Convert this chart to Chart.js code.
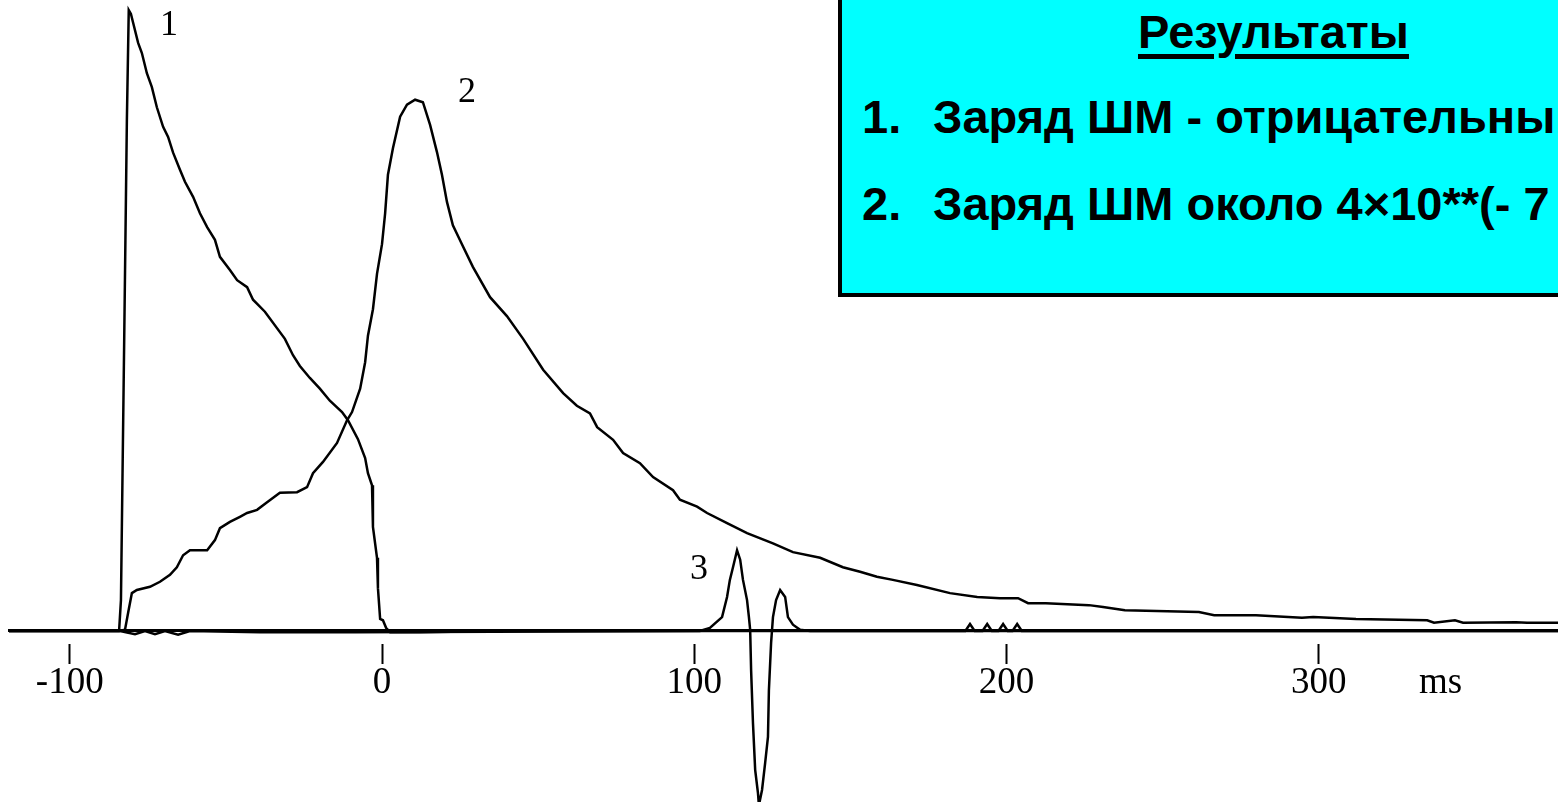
<!DOCTYPE html>
<html>
<head>
<meta charset="utf-8">
<script src="https://cdn.jsdelivr.net/npm/chart.js@4.4.0/dist/chart.umd.min.js"></script>
<style>
    html, body { margin: 0; padding: 0; background: #fff; overflow: hidden; }
    #wrap { position: relative; width: 1558px; height: 802px; overflow: hidden; }
    #chart { position: absolute; left: 0; top: 0; }
    #box {
        position: absolute; left: 838px; top: -10px; width: 800px; height: 307px;
        box-sizing: border-box; background: #00ffff;
        border-left: 4px solid #000; border-bottom: 4px solid #000;
    }
    .t {
        position: absolute; font-family: "Liberation Sans", Arial, sans-serif;
        font-weight: bold; font-size: 47px; line-height: 47px; white-space: nowrap; color: #000;
    }
    #title { text-decoration: underline; text-decoration-thickness: 5px; text-underline-offset: 6px; }
</style>
</head>
<body>
<div id="wrap">
    <canvas id="chart" width="1558" height="802"></canvas>
    <div id="box"></div>
    <div class="t" id="title" style="left:1138px; top:8px;">Результаты</div>
    <div class="t" style="left:862px; top:93px;">1.</div>
    <div class="t" style="left:933px; top:93px;">Заряд ШМ - отрицательный</div>
    <div class="t" style="left:862px; top:180px;">2.</div>
    <div class="t" style="left:933px; top:180px;">Заряд ШМ около 4×10**(- 7</div>
</div>
<script>
// time axis, ms
const X_MIN = -119.45;
const X_MAX = 376.6;
const Y_MIN = -27.1;
const Y_MAX = 100;

const tickValues = [-100, 0, 100, 200, 300];
const UNIT_AT = 339;        // where "ms" sits on the axis
const unitLabel = 'ms';

// curve 1
const curve1Time = [-119.5, -103.1, -84.2, -83.6, -82.6, -81.7, -81.1, -80.4, -79.7, -78.1, -76.9, -75.3, -73.7, -72.1,
    -70.1, -68.5, -66.9, -64.7, -63.1, -60.5, -58.3, -56.0, -53.5, -51.9, -48.7, -46.4, -43.2, -41.3, -37.5, -31.1,
    -28.5, -26.3, -23.1, -19.9, -16.7, -12.8, -10.9, -7.7, -5.4, -4.5, -3.2, -2.9, -1.6, -1.3, -0.6, 0.3, 1.3, 2.6,
    12.2, 37.8, 376.6];
const curve1Value = [0, 0, 0, 4.9, 44.5, 81.0, 98.4, 97.8, 96.4, 93.2, 91.6, 88.4, 86.2, 83.0,
    79.9, 78.3, 75.8, 73.1, 71.2, 68.8, 66.2, 64.0, 62.0, 59.3, 57.2, 55.6, 54.5, 52.5, 50.6, 46.3,
    43.7, 42.0, 40.1, 38.4, 36.5, 34.7, 33.4, 30.4, 27.4, 25.0, 23.1, 16.5, 11.6, 6.8, 1.9, 1.7, 0.5, -0.2,
    -0.2, 0, 0];

// curve 2
const curve2Time = [-119.5, -84.2, -82.3, -81.3, -80.1, -78.5, -74.3, -71.1, -67.9, -65.7, -63.7, -61.5, -56.0,
    -53.5, -51.9, -48.7, -45.5, -43.2, -40.0, -36.8, -32.7, -27.2, -24.0, -22.1, -18.9, -14.4, -11.2, -9.6, -7.0,
    -5.4, -4.5, -2.9, -1.6, 0, 1.0, 1.9, 3.5, 5.8, 8.0, 10.6, 13.1, 15.4, 17.6, 19.2, 20.8, 22.7, 25.6, 29.1, 34.6,
    40.0, 45.2, 51.6, 58.0, 62.4, 66.6, 68.9, 74.0, 77.2, 82.6, 86.8, 93.2, 95.4, 100.9, 104.1, 110.5, 116.9, 125.2,
    131.6, 140.3, 147.6, 153.1, 158.5, 163.6, 171.3, 181.9, 190.6, 197.9, 203.7, 206.9, 212.6, 226.4, 230.9, 237.9,
    261.6, 266.5, 279.9, 294.6, 298.2, 311.9, 334.7, 336.9, 343.6, 346.2, 363.2, 366.7, 376.6];
const curve2Value = [0, 0, 0.2, 2.9, 6.0, 6.5, 7.0, 7.8, 8.9, 10.1, 12.0, 12.8, 12.8,
    14.4, 16.3, 17.3, 18.1, 18.7, 19.2, 20.4, 21.9, 22.0, 22.8, 25.0, 26.8, 29.8, 33.4, 34.7, 38.4,
    42.6, 46.8, 51.0, 56.6, 61.3, 66.2, 72.3, 76.5, 81.5, 83.4, 84.2, 83.8, 80.2, 75.9, 72.3, 68.0, 64.3, 61.3, 57.7, 52.9,
    49.9, 46.3, 41.4, 37.7, 35.7, 34.5, 32.3, 30.3, 28.2, 26.6, 24.4, 22.3, 20.8, 19.7, 18.7, 17.1, 15.5, 13.9,
    12.5, 11.6, 10.1, 9.4, 8.6, 8.1, 7.3, 6.0, 5.4, 5.2, 5.2, 4.4, 4.4, 4.1, 3.8, 3.3,
    3.0, 2.5, 2.5, 2.1, 2.2, 1.9, 1.7, 1.3, 1.7, 1.3, 1.4, 1.3, 1.3];

// curve 3
const curve3Time = [-119.5, -83.9, -79.1, -75.9, -72.7, -69.5, -65.3, -61.5, -39.1, -8.6, 101.8, 105.0, 108.9,
    110.5, 111.4, 112.4, 113.7, 114.7, 115.6, 116.9, 117.5, 117.9, 118.2, 118.8, 119.5, 120.4, 120.7, 121.7, 122.7,
    123.6, 123.9, 124.6, 125.2, 126.2, 127.5, 129.1, 130.0, 131.6, 133.9, 137.1, 186.8, 188.3, 189.8, 192.3, 193.8,
    195.3, 197.4, 198.9, 200.4, 201.9, 203.4, 204.9, 376.6];
const curve3Value = [0, 0, -0.5, 0, -0.5, 0, -0.6, 0, -0.2, -0.2, 0, 0.5, 2.2,
    5.4, 8.1, 10.1, 12.8, 11.3, 8.1, 4.9, 2.2, 0.2, -6.2, -14.6, -22.0, -25.7, -27.6, -25.2, -20.9,
    -16.8, -9.4, -1.9, 2.2, 4.9, 6.5, 5.4, 2.2, 1.0, 0.2, 0, 0, 1.1, 0, 0, 1.1,
    0, 0, 1.1, 0, 0, 1.1, 0, 0];

// curve numbers written next to the traces
const curveNames = ['1', '2', '3'];
const curveNameTime = [-68.2, 27.2, 101.5];
const curveNameValue = [96.0, 85.4, 9.8];

function toPoints(times, values) {
    if (times.length !== values.length) {
        console.error("length mismatch", times.length, values.length);
    }
    return times.map((t, i) => ({x: t, y: values[i]}));
}

const curveNamesPlugin = {
    id: 'curveNames',
    afterDatasetsDraw(chart) {
        const {ctx, scales} = chart;
        ctx.save();
        ctx.fillStyle = '#000';
        ctx.font = '36px "Liberation Serif", "Times New Roman", serif';
        ctx.textAlign = 'center';
        ctx.textBaseline = 'middle';
        curveNames.forEach((name, i) => {
            ctx.fillText(name, scales.x.getPixelForValue(curveNameTime[i]), scales.y.getPixelForValue(curveNameValue[i]));
        });
        ctx.restore();
    }
};

const lineStyle = {
    borderColor: '#000',
    borderWidth: 2.5,
    pointRadius: 0,
    tension: 0,
    fill: false
};

new Chart(document.getElementById('chart'), {
    type: 'line',
    data: {
        datasets: [
            {label: '1', data: toPoints(curve1Time, curve1Value), ...lineStyle},
            {label: '2', data: toPoints(curve2Time, curve2Value), ...lineStyle},
            {label: '3', data: toPoints(curve3Time, curve3Value), ...lineStyle}
        ]
    },
    options: {
        responsive: false,
        animation: false,
        layout: {padding: {left: 9, right: 0, top: 0, bottom: 0}},
        plugins: {legend: {display: false}, tooltip: {enabled: false}},
        scales: {
            x: {
                type: 'linear',
                min: X_MIN,
                max: X_MAX,
                position: {y: 0},
                afterFit: (scale) => { scale.height = 0; },
                afterBuildTicks: (scale) => {
                    scale.ticks = tickValues.concat([UNIT_AT]).map(v => ({value: v}));
                },
                border: {display: true, color: '#000', width: 3},
                grid: {
                    drawOnChartArea: false,
                    drawTicks: true,
                    tickLength: 32,
                    tickWidth: 2,
                    tickBorderDash: [0, 12, 20, 200],
                    tickColor: (ctx) => (ctx.tick && ctx.tick.value === UNIT_AT) ? 'rgba(0,0,0,0)' : '#000'
                },
                ticks: {
                    autoSkip: false,
                    maxRotation: 0,
                    padding: 2,
                    color: '#000',
                    font: {family: '"Liberation Serif", "Times New Roman", serif', size: 37, lineHeight: 1},
                    callback: (value) => value === UNIT_AT ? unitLabel : String(value)
                }
            },
            y: {
                type: 'linear',
                display: false,
                min: Y_MIN,
                max: Y_MAX
            }
        }
    },
    plugins: [curveNamesPlugin]
});
</script>
</body>
</html>
